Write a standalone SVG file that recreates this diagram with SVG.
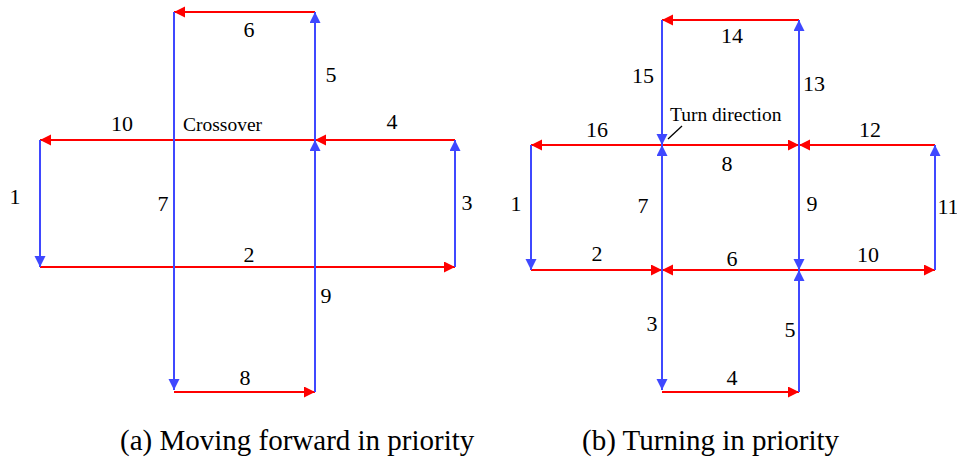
<svg xmlns="http://www.w3.org/2000/svg" width="957" height="462" viewBox="0 0 957 462">
<defs>
<style>
.r{stroke:#ff0000;stroke-width:2;fill:none;marker-end:url(#ar)}
.b{stroke:#3f48ff;stroke-width:2;fill:none;marker-end:url(#ab)}
.n{font-size:22px;text-anchor:middle}
.s{font-size:19.5px}
.c{font-size:29px}
</style>
<marker id="ar" markerUnits="userSpaceOnUse" markerWidth="12" markerHeight="12" refX="11" refY="5.5" orient="auto"><path d="M0,0 L11,5.5 L0,11 z" fill="#ff0000"/></marker>
<marker id="ab" markerUnits="userSpaceOnUse" markerWidth="12" markerHeight="12" refX="11" refY="5.5" orient="auto"><path d="M0,0 L11,5.5 L0,11 z" fill="#3f48ff"/></marker>
</defs>
<rect width="957" height="462" fill="#fff"/>
<g id="connectors">
<g id="panel-a">
<path class="r" d="M315,12 L174,12"/>
<path class="r" d="M455,140 L315,140"/>
<path class="r" d="M315,140 L40,140"/>
<path class="r" d="M40,267 L455,267"/>
<path class="r" d="M174,392 L315,392"/>
<path class="b" d="M40,140 L40,267"/>
<path class="b" d="M455,267 L455,140"/>
<path class="b" d="M174,12 L174,390"/>
<path class="b" d="M315,392 L315,140"/>
<path class="b" d="M315,140 L315,12"/>
</g>
<g id="panel-b">
<path class="r" d="M799,20 L662,20"/>
<path class="r" d="M662,145 L531,145"/>
<path class="r" d="M662,145 L799,145"/>
<path class="r" d="M935,145 L799,145"/>
<path class="r" d="M531,270 L662,270"/>
<path class="r" d="M799,270 L662,270"/>
<path class="r" d="M799,270 L935,270"/>
<path class="r" d="M662,392 L799,392"/>
<path class="b" d="M662,20 L662,145"/>
<path class="b" d="M662,270 L662,145"/>
<path class="b" d="M662,270 L662,390"/>
<path class="b" d="M799,145 L799,20"/>
<path class="b" d="M799,145 L799,270"/>
<path class="b" d="M799,392 L799,270"/>
<path class="b" d="M531,145 L531,270"/>
<path class="b" d="M935,270 L935,145"/>
<path d="M668,139 L682,126" stroke="#000" stroke-width="1.3" fill="none"/>
</g>
</g>
<g id="labels-a" font-family="'Liberation Serif', 'Times New Roman', serif" fill="#000">
<text class="n" x="249" y="37">6</text>
<text class="n" x="331" y="82">5</text>
<text class="n" x="122" y="131">10</text>
<text class="s" x="183" y="131">Crossover</text>
<text class="n" x="392" y="129">4</text>
<text class="n" x="15" y="204">1</text>
<text class="n" x="163" y="211">7</text>
<text class="n" x="467" y="210">3</text>
<text class="n" x="249" y="262">2</text>
<text class="n" x="326" y="303">9</text>
<text class="n" x="245" y="385">8</text>
<text class="c" x="120" y="450">(a) Moving forward in priority</text>
</g>
<g id="labels-b" font-family="'Liberation Serif', 'Times New Roman', serif" fill="#000">
<text class="n" x="732" y="43">14</text>
<text class="n" x="643" y="83">15</text>
<text class="n" x="814" y="91">13</text>
<text class="s" x="670" y="121">Turn direction</text>
<text class="n" x="597" y="137">16</text>
<text class="n" x="870" y="137">12</text>
<text class="n" x="727" y="171">8</text>
<text class="n" x="516" y="211">1</text>
<text class="n" x="643" y="213">7</text>
<text class="n" x="812" y="211">9</text>
<text class="n" x="948" y="214">11</text>
<text class="n" x="597" y="261">2</text>
<text class="n" x="732" y="266">6</text>
<text class="n" x="868" y="262">10</text>
<text class="n" x="652" y="331">3</text>
<text class="n" x="790" y="337">5</text>
<text class="n" x="732" y="385">4</text>
<text class="c" x="582" y="450">(b) Turning in priority</text>
</g>
</svg>
